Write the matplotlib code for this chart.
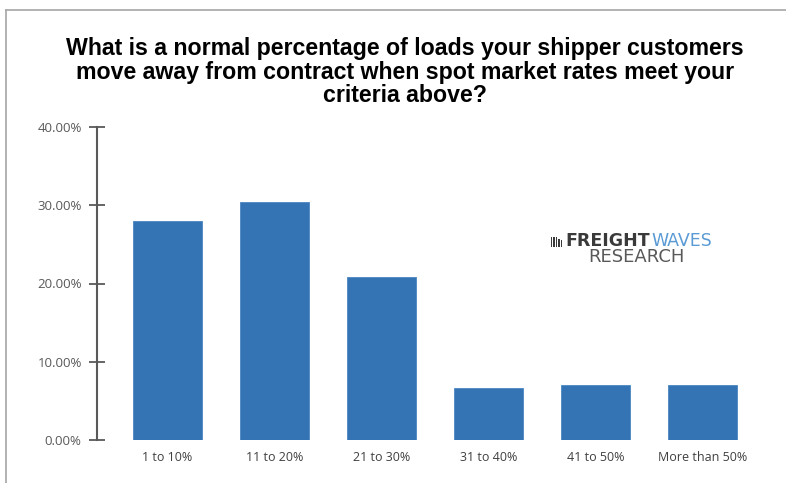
import matplotlib
matplotlib.use("Agg")
import matplotlib.pyplot as plt
from matplotlib.patches import Rectangle
from matplotlib.lines import Line2D

categories = ["1 to 10%", "11 to 20%", "21 to 30%", "31 to 40%", "41 to 50%", "More than 50%"]
shares = [28.0, 30.4, 20.8, 6.7, 7.0, 7.0]
yticks = [0, 10, 20, 30, 40]
ytick_labels = ["0.00%", "10.00%", "20.00%", "30.00%", "40.00%"]
title = ("What is a normal percentage of loads your shipper customers\n"
         "move away from contract when spot market rates meet your\n"
         "criteria above?")

W, H = 786, 483
fig = plt.figure(figsize=(W / 100, H / 100), dpi=100)
fig.patch.set_facecolor("white")

# outer frame lines (top and left)
fig.add_artist(Line2D([6 / W, 1], [1 - 9.5 / H, 1 - 9.5 / H], color="#a6a6a6", lw=1.2))
fig.add_artist(Line2D([6 / W, 6 / W], [0, 1 - 9.5 / H], color="#a6a6a6", lw=1.2))

ax_left, ax_right = 97, 760
ax_top, ax_bot = 127, 440
ax = fig.add_axes([ax_left / W, 1 - ax_bot / H, (ax_right - ax_left) / W, (ax_bot - ax_top) / H])

x = list(range(len(categories)))
ax.bar(x, shares, width=0.645, color="#3474b4", edgecolor="#4a86c2", linewidth=0.6)

ax.set_xlim(-0.66, 5.54)
ax.set_ylim(0, 40)
ax.set_yticks(yticks)
ax.set_yticklabels(ytick_labels)
ax.set_xticks(x)
ax.set_xticklabels(categories)

for s in ["top", "right", "bottom"]:
    ax.spines[s].set_visible(False)
ax.spines["left"].set_color("#595959")
ax.spines["left"].set_linewidth(1.5)
ax.tick_params(axis="y", direction="inout", length=12, width=1.3, color="#595959",
               labelsize=9.5, labelcolor="#595959", pad=5)
ax.tick_params(axis="x", length=0, labelsize=9, labelcolor="#404040", pad=8)
for lab in ax.get_xticklabels() + ax.get_yticklabels():
    lab.set_family(["Open Sans", "DejaVu Sans"])

fig.text(405 / W, 1 - 72 / H, title, ha="center", va="center",
         fontsize=16.7, fontweight="bold", family="Liberation Sans",
         color="#000000", linespacing=1.02)

# logo: striped icon + wordmark
for xo, hgt in [(550.5, 10), (553, 10), (555.5, 9), (558, 8), (560.5, 6.5)]:
    fig.add_artist(Rectangle((xo / W, 1 - 246.5 / H), 1.6 / W, hgt / H,
                             transform=fig.transFigure, color="#3a3a3a", lw=0))
fig.text(650 / W, 1 - 241.5 / H, "FREIGHT", ha="right", va="center",
         fontsize=12.5, fontweight="bold", family="DejaVu Sans", color="#3a3a3a")
fig.text(651 / W, 1 - 241.5 / H, "WAVES", ha="left", va="center",
         fontsize=12.5, family="DejaVu Sans", color="#5b9bd5")
fig.text(636.5 / W, 1 - 257.5 / H, "RESEARCH", ha="center", va="center",
         fontsize=13, family="DejaVu Sans", color="#595959")

fig.savefig("out.png", dpi=100, facecolor="white")
